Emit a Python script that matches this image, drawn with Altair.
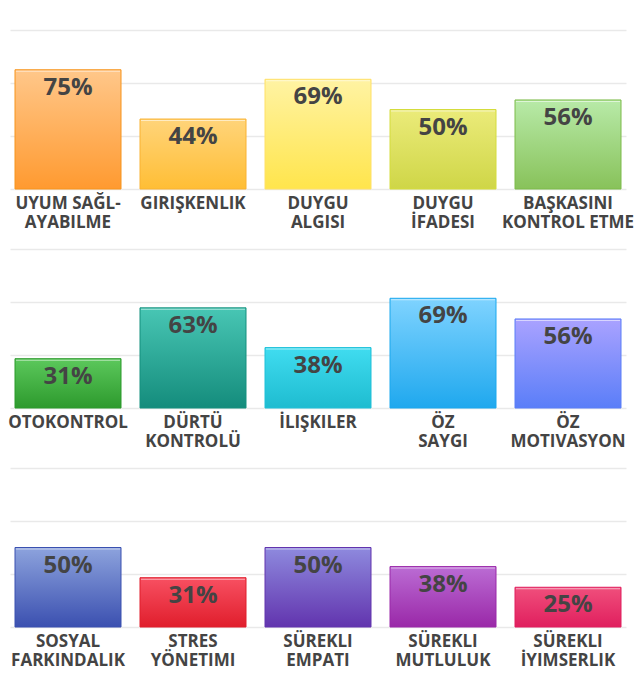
import altair as alt
import pandas as pd

row1_names = ["UYUM SAĞL-\nAYABILME", "GIRIŞKENLIK", "DUYGU\nALGISI", "DUYGU\nİFADESI", "BAŞKASINI\nKONTROL ETME"]
row1_values = [75, 44, 69, 50, 56]
row2_names = ["OTOKONTROL", "DÜRTÜ\nKONTROLÜ", "İLIŞKILER", "ÖZ\nSAYGI", "ÖZ\nMOTIVASYON"]
row2_values = [31, 63, 38, 69, 56]
row3_names = ["SOSYAL\nFARKINDALIK", "STRES\nYÖNETIMI", "SÜREKLI\nEMPATI", "SÜREKLI\nMUTLULUK", "SÜREKLI\nİYIMSERLIK"]
row3_values = [50, 31, 50, 38, 25]

row1_top = ["#ffc78a", "#ffd47a", "#fff3a3", "#ebeb7a", "#b8eaa8"]
row1_bottom = ["#ff9a30", "#ffbe35", "#ffe54c", "#cfd647", "#88c25a"]
row1_stroke = ["#f7941d", "#f9b233", "#ffe066", "#d4dc3c", "#7dbb4a"]
row2_top = ["#5cc85c", "#48c6b4", "#40dcf0", "#7fd3ff", "#aaa2ff"]
row2_bottom = ["#2d9a2d", "#148c7c", "#1ebcd0", "#1fa8ee", "#5a7ef8"]
row2_stroke = ["#2a9a2a", "#15907e", "#1ec0d8", "#1aa8ee", "#5a7ef8"]
row3_top = ["#8da3dd", "#f85062", "#8e8ade", "#bb6cd4", "#f04f7c"]
row3_bottom = ["#3b50b0", "#e01e2c", "#6234ae", "#9a28a8", "#e01f5e"]
row3_stroke = ["#3a50b0", "#e01e2c", "#6234ae", "#9a28a8", "#e01f5e"]

grid_values = [0, 100 / 3, 200 / 3, 100]
FONT = "Open Sans"
TEXT_COLOR = "#444444"


def make_row(names, values, tops, bottoms, strokes):
    df = pd.DataFrame({"name": names, "value": values, "idx": list(range(len(names)))})
    df["label"] = df["value"].astype(str) + "%"
    x = alt.X(
        "name:N",
        sort=None,
        scale=alt.Scale(domain=names, paddingInner=0.152, paddingOuter=0.04),
        axis=alt.Axis(
            title=None,
            labelAngle=0,
            labelExpr="split(datum.label, '\\n')",
            labelFont=FONT,
            labelFontWeight="bold",
            labelFontSize=17,
            labelColor=TEXT_COLOR,
            labelLineHeight=19,
            labelPadding=6,
            labelLimit=0,
            domain=False,
            ticks=False,
        ),
    )
    y = alt.Y(
        "value:Q",
        scale=alt.Scale(domain=[0, 100], nice=False, zero=True),
        axis=alt.Axis(
            title=None,
            labels=False,
            ticks=False,
            domain=False,
            grid=True,
            values=grid_values,
            gridColor="#e9e9e9",
            gridWidth=1.5,
        ),
    )
    base = alt.Chart(df)
    layers = []
    for i in range(len(names)):
        grad = alt.Gradient(
            gradient="linear",
            stops=[
                alt.GradientStop(color=tops[i], offset=0),
                alt.GradientStop(color=bottoms[i], offset=1),
            ],
            x1=0, x2=0, y1=0, y2=1,
        )
        layers.append(
            base.transform_filter(alt.datum.idx == i)
            .mark_bar(color=grad, stroke=strokes[i], strokeWidth=1)
            .encode(x=x, y=y)
        )
    highlight = base.mark_tick(
        color="white", opacity=0.55, thickness=1, size=104, yOffset=1.5
    ).encode(x=alt.X("name:N", sort=None), y=alt.Y("value:Q"))
    text = base.mark_text(
        baseline="alphabetic",
        dy=25,
        font=FONT,
        fontWeight="bold",
        fontSize=24,
        color=TEXT_COLOR,
    ).encode(x=alt.X("name:N", sort=None), y=alt.Y("value:Q"), text="label:N")
    return alt.layer(*layers, highlight, text).properties(width=616, height=159)


chart = (
    alt.vconcat(
        make_row(row1_names, row1_values, row1_top, row1_bottom, row1_stroke),
        make_row(row2_names, row2_values, row2_top, row2_bottom, row2_stroke),
        make_row(row3_names, row3_values, row3_top, row3_bottom, row3_stroke),
        spacing=60,
        bounds="flush",
    )
    .properties(padding={"left": 7, "top": 30, "right": 0, "bottom": 15}, background="white")
    .configure_view(stroke=None)
)

chart.save("out.html", embed_options={"renderer": "svg", "actions": False})
